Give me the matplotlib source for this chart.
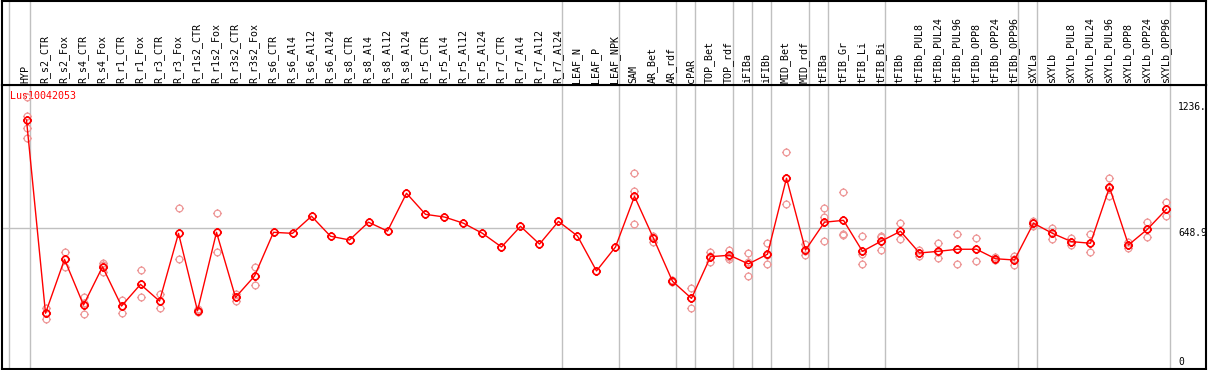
import matplotlib
matplotlib.use('Agg')
import matplotlib.pyplot as plt
from matplotlib.path import Path
import numpy as np

matplotlib.rcParams['font.family'] = 'DejaVu Sans Mono'
matplotlib.rcParams['font.size'] = 7.2

gene = 'Lus10042053'

samples = ['HYP', 'R_s2_CTR', 'R_s2_Fox', 'R_s4_CTR', 'R_s4_Fox', 'R_r1_CTR', 'R_r1_Fox',
           'R_r3_CTR', 'R_r3_Fox', 'R_r1s2_CTR', 'R_r1s2_Fox', 'R_r3s2_CTR', 'R_r3s2_Fox',
           'R_s6_CTR', 'R_s6_Al4', 'R_s6_Al12', 'R_s6_Al24', 'R_s8_CTR', 'R_s8_Al4',
           'R_s8_Al12', 'R_s8_Al24', 'R_r5_CTR', 'R_r5_Al4', 'R_r5_Al12', 'R_r5_Al24',
           'R_r7_CTR', 'R_r7_Al4', 'R_r7_Al12', 'R_r7_Al24', 'LEAF_N', 'LEAF_P', 'LEAF_NPK',
           'SAM', 'AR_Bet', 'AR_rdf', 'cPAR', 'TOP_Bet', 'TOP_rdf', 'iFIBa', 'iFIBb',
           'MID_Bet', 'MID_rdf', 'tFIBa', 'tFIB_Gr', 'tFIB_Li', 'tFIB_Bi', 'tFIBb',
           'tFIBb_PUL8', 'tFIBb_PUL24', 'tFIBb_PUL96', 'tFIBb_OPP8', 'tFIBb_OPP24',
           'tFIBb_OPP96', 'sXYLa', 'sXYLb', 'sXYLb_PUL8', 'sXYLb_PUL24', 'sXYLb_PUL96',
           'sXYLb_OPP8', 'sXYLb_OPP24', 'sXYLb_OPP96']

means = [1172, 236, 497, 276, 461, 271, 376, 295, 623, 248, 628, 313, 416,
         628, 623, 706, 609, 591, 677, 634, 817, 715, 702, 672, 623, 557, 657, 571, 681,
         610, 441, 557, 802, 599, 391, 308, 510, 517, 475, 522, 890, 542,
         677, 686, 536, 586, 633, 528, 536, 546, 546, 500, 494,
         672, 623, 583, 575, 846, 567, 643, 740]

replicates = [
    [1282, 1191, 1132, 1083], [260, 237, 208], [531, 497, 459], [313, 284, 231],
    [478, 468, 437], [300, 273, 239], [444, 313], [329, 260], [744, 500],
    [256, 240], [722, 533], [329, 297], [460, 373],
    [], [], [], [], [], [], [], [], [], [], [], [], [], [], [], [],
    [], [], [],
    [915, 830, 667], [612, 604, 580], [395, 387], [358, 308, 260],
    [531, 515, 484], [541, 510, 500], [528, 482, 415], [575, 516, 475],
    [1016, 890, 765], [570, 538, 518],
    [744, 702, 585], [822, 620, 614], [609, 523, 475], [612, 604, 541],
    [672, 633, 594], [542, 528, 515], [575, 531, 502], [618, 546, 475],
    [599, 548, 491], [510, 497, 494], [513, 499, 470],
    [684, 672, 660], [650, 625, 594], [602, 580, 567], [620, 574, 531],
    [890, 844, 804], [583, 567, 551], [678, 643, 607], [775, 740, 707],
]

# group separators (drawn just after these sample indices)
group_ends = [-1, 0, 28, 31, 34, 35, 37, 38, 39, 41, 42, 45, 52, 53, 60]
ref_value = 648.9
y_labels = ['1236.', '648.9', '0']
y_label_vals = [1236, 648.9, 0]

# circle marker with little ticks
circ = Path.unit_circle()
ticks = Path([[0, 1], [0, 1.35], [0, -1], [0, -1.35], [1, 0], [1.35, 0], [-1, 0], [-1.35, 0]],
             [Path.MOVETO, Path.LINETO] * 4)
gear = Path.make_compound_path(circ, ticks)

x = np.arange(len(samples))
xlim = (-1.29, 62.08)
gray = '#c0c0c0'

fig = plt.figure(figsize=(12.09, 3.70), dpi=100)
ax = fig.add_axes([2 / 1209, 1 / 370, 1204 / 1209, 284 / 370])
axh = fig.add_axes([2 / 1209, 285 / 370, 1204 / 1209, 84.5 / 370])

for a in (ax, axh):
    a.set_xlim(*xlim)
    a.set_xticks([])
    a.set_yticks([])
    for s in a.spines.values():
        s.set_linewidth(1.5)
        s.set_color('black')
    for g in group_ends:
        off = 0.2 if g >= 0 else 0.1
        a.axvline(g + off, color=gray, lw=1.0, zorder=1)

ax.set_ylim(-33.9, 1341.4)
axh.set_ylim(0, 1)

ax.hlines(ref_value, xlim[0], 60.2, color=gray, lw=1.0, zorder=1)

for i, reps in enumerate(replicates):
    if reps:
        ax.plot([i] * len(reps), reps, linestyle='none', marker=gear, markersize=6.5,
                markerfacecolor='none', markeredgecolor='#ee9999', markeredgewidth=0.9, zorder=2)

ax.plot(x, means, color='red', lw=1.0, zorder=3)
ax.plot(x, means, linestyle='none', marker=gear, markersize=6.5, markerfacecolor='none',
        markeredgecolor='red', markeredgewidth=1.2, zorder=4)

ax.text(-0.87, 1286, gene, color='red', ha='left', va='center', zorder=1.5)

for lab, v in zip(y_labels, y_label_vals):
    ax.text(60.6, v, lab, ha='left', va='top' if lab == '648.9' else 'center',
            color='black', fontsize=6.9, clip_on=True)

for i, lab in enumerate(samples):
    axh.text(i - 0.05, 0.025, lab, rotation=90, ha='center', va='bottom', color='black')

fig.savefig('out.png', dpi=100)
